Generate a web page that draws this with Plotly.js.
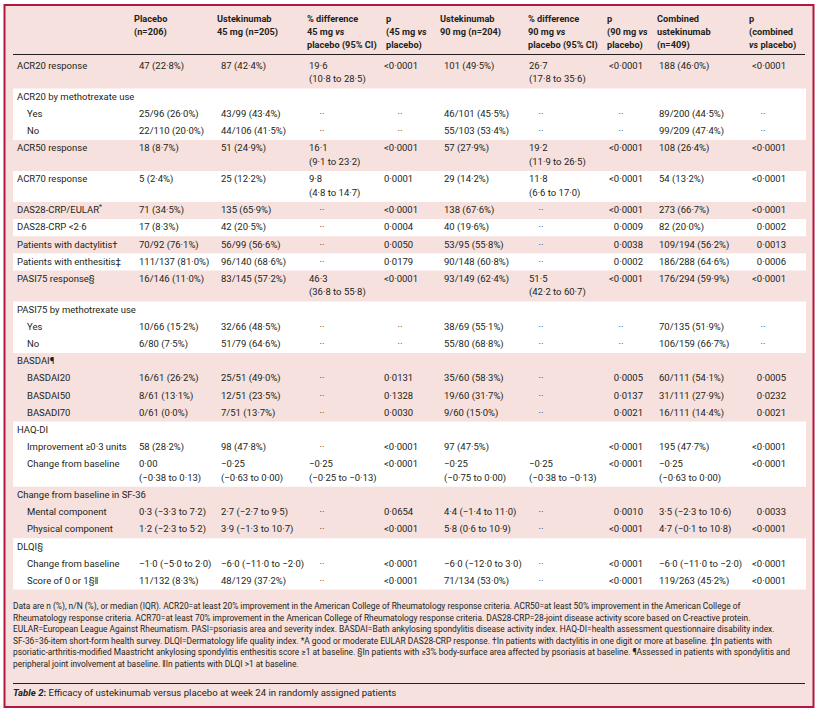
<!DOCTYPE html>
<html><head><meta charset="utf-8">
<script src="https://cdn.plot.ly/plotly-3.0.1.min.js"></script>
<style>html,body{margin:0;padding:0;background:#fff}</style>
</head><body><div id="chart" style="width:819px;height:710px"></div>
<script>
// ---------------- DATA ----------------
const columnHeaders = [
  "",
  "<b>Placebo</b><br><b>(n=206)</b>",
  "<b>Ustekinumab</b><br><b>45 mg (n=205)</b>",
  "<b>% difference</b><br><b>45 mg <i>vs</i></b><br><b>placebo (95% CI)</b>",
  "<b>p</b><br><b>(45 mg <i>vs</i></b><br><b>placebo)</b>",
  "<b>Ustekinumab</b><br><b>90 mg (n=204)</b>",
  "<b>% difference</b><br><b>90 mg <i>vs</i></b><br><b>placebo (95% CI)</b>",
  "<b>p</b><br><b>(90 mg <i>vs</i></b><br><b>placebo)</b>",
  "<b>Combined</b><br><b>ustekinumab</b><br><b>(n=409)</b>",
  "<b>p</b><br><b>(combined</b><br><b><i>vs</i> placebo)</b>"
];

const rowLabels = [
  "ACR20 response", "ACR20 by methotrexate use", "Yes", "No",
  "ACR50 response", "ACR70 response", "DAS28-CRP/EULAR<sup>*</sup>", "DAS28-CRP &lt;2·6",
  "Patients with dactylitis†", "Patients with enthesitis‡", "PASI75 response§",
  "PASI75 by methotrexate use", "Yes", "No",
  "BASDAI¶", "BASDAI20", "BASDAI50", "BASADI70",
  "HAQ-DI", "Improvement ≥0·3 units", "Change from baseline",
  "Change from baseline in SF-36", "Mental component", "Physical component",
  "DLQI§", "Change from baseline", "Score of 0 or 1§‖"
];
// item = own band, group = band heading, sub = indented row inside a group
const rowKind = [
  "item","group","sub","sub",
  "item","item","item","item",
  "item","item","item",
  "group","sub","sub",
  "group","sub","sub","sub",
  "group","sub","sub",
  "group","sub","sub",
  "group","sub","sub"
];

const NA = "··";
const placebo = ["47 (22·8%)","","25/96 (26·0%)","22/110 (20·0%)","18 (8·7%)","5 (2·4%)","71 (34·5%)","17 (8·3%)","70/92 (76·1%)","111/137 (81·0%)","16/146 (11·0%)","","10/66 (15·2%)","6/80 (7·5%)","","16/61 (26·2%)","8/61 (13·1%)","0/61 (0·0%)","","58 (28·2%)","0·00 (−0·38 to 0·13)","","0·3 (−3·3 to 7·2)","1·2 (−2·3 to 5·2)","","−1·0 (−5·0 to 2·0)","11/132 (8·3%)"];
const ust45 = ["87 (42·4%)","","43/99 (43·4%)","44/106 (41·5%)","51 (24·9%)","25 (12·2%)","135 (65·9%)","42 (20·5%)","56/99 (56·6%)","96/140 (68·6%)","83/145 (57·2%)","","32/66 (48·5%)","51/79 (64·6%)","","25/51 (49·0%)","12/51 (23·5%)","7/51 (13·7%)","","98 (47·8%)","−0·25 (−0·63 to 0·00)","","2·7 (−2·7 to 9·5)","3·9 (−1·3 to 10·7)","","−6·0 (−11·0 to −2·0)","48/129 (37·2%)"];
const diff45 = ["19·6 (10·8 to 28·5)","",NA,NA,"16·1 (9·1 to 23·2)","9·8 (4·8 to 14·7)",NA,NA,NA,NA,"46·3 (36·8 to 55·8)","",NA,NA,"",NA,NA,NA,"",NA,"−0·25 (−0·25 to −0·13)","",NA,NA,"",NA,NA];
const p45 = ["&lt;0·0001","",NA,NA,"&lt;0·0001","0·0001","&lt;0·0001","0·0004","0·0050","0·0179","&lt;0·0001","",NA,NA,"","0·0131","0·1328","0·0030","","&lt;0·0001","&lt;0·0001","","0·0654","&lt;0·0001","","&lt;0·0001","&lt;0·0001"];
const ust90 = ["101 (49·5%)","","46/101 (45·5%)","55/103 (53·4%)","57 (27·9%)","29 (14·2%)","138 (67·6%)","40 (19·6%)","53/95 (55·8%)","90/148 (60·8%)","93/149 (62·4%)","","38/69 (55·1%)","55/80 (68·8%)","","35/60 (58·3%)","19/60 (31·7%)","9/60 (15·0%)","","97 (47·5%)","−0·25 (−0·75 to 0·00)","","4·4 (−1·4 to 11·0)","5·8 (0·6 to 10·9)","","−6·0 (−12·0 to 3·0)","71/134 (53·0%)"];
const diff90 = ["26·7 (17·8 to 35·6)","",NA,NA,"19·2 (11·9 to 26·5)","11·8 (6·6 to 17·0)",NA,NA,NA,NA,"51·5 (42·2 to 60·7)","",NA,NA,"",NA,NA,NA,"","","−0·25 (−0·38 to −0·13)","",NA,NA,"",NA,NA];
const p90 = ["&lt;0·0001","",NA,NA,"&lt;0·0001","&lt;0·0001","&lt;0·0001","0·0009","0·0038","0·0002","&lt;0·0001","",NA,NA,"","0·0005","0·0137","0·0021","","&lt;0·0001","&lt;0·0001","","0·0010","&lt;0·0001","","&lt;0·0001","&lt;0·0001"];
const combined = ["188 (46·0%)","","89/200 (44·5%)","99/209 (47·4%)","108 (26·4%)","54 (13·2%)","273 (66·7%)","82 (20·0%)","109/194 (56·2%)","186/288 (64·6%)","176/294 (59·9%)","","70/135 (51·9%)","106/159 (66·7%)","","60/111 (54·1%)","31/111 (27·9%)","16/111 (14·4%)","","195 (47·7%)","−0·25 (−0·63 to 0·00)","","3·5 (−2·3 to 10·6)","4·7 (−0·1 to 10·8)","","−6·0 (−11·0 to −2·0)","119/263 (45·2%)"];
const pCombined = ["&lt;0·0001","",NA,NA,"&lt;0·0001","&lt;0·0001","&lt;0·0001","0·0002","0·0013","0·0006","&lt;0·0001","",NA,NA,"","0·0005","0·0232","0·0021","","&lt;0·0001","&lt;0·0001","","0·0033","&lt;0·0001","","&lt;0·0001","&lt;0·0001"];

const footnotes = [
  "Data are n (%), n/N (%), or median (IQR). ACR20=at least 20% improvement in the American College of Rheumatology response criteria. ACR50=at least 50% improvement in the American College of",
  "Rheumatology response criteria. ACR70=at least 70% improvement in the American College of Rheumatology response criteria. DAS28-CRP=28-joint disease activity score based on C-reactive protein.",
  "EULAR=European League Against Rheumatism. PASI=psoriasis area and severity index. BASDAI=Bath ankylosing spondylitis disease activity index. HAQ-DI=health assessment questionnaire disability index.",
  "SF-36=36-item short-form health survey. DLQI=Dermatology life quality index. *A good or moderate EULAR DAS28-CRP response. †In patients with dactylitis in one digit or more at baseline. ‡In patients with",
  "psoriatic-arthritis-modified Maastricht ankylosing spondylitis enthesitis score ≥1 at baseline. §In patients with ≥3% body-surface area affected by psoriasis at baseline. ¶Assessed in patients with spondylitis and",
  "peripheral joint involvement at baseline. ‖In patients with DLQI &gt;1 at baseline."
];
const caption = "<b><i>Table 2</i>:</b> Efficacy of ustekinumab versus placebo at week 24 in randomly assigned patients";

// ---------------- LAYOUT CONFIG ----------------
const W = 819, H = 710;
const FONT = "Roboto, 'Liberation Sans', sans-serif";
const INK = "#231f20", PINK = "#f6e1de", BORDER = "#b3173f";
const BODY_SIZE = 9.5, HEAD_SIZE = 9.2, NOTE_SIZE = 8.4, CAP_SIZE = 9.6;
const valueCols = [placebo, ust45, diff45, p45, ust90, diff90, p90, combined, pCombined];
// per column: header x, value anchor x, alignment, x for "··"
const colCfg = [
  {hx:134, vx:139, al:"l"},
  {hx:217, vx:221, al:"l"},
  {hx:307, vx:309, al:"l", dx:322},
  {hx:386, vx:384, al:"l", dx:400},
  {hx:440, vx:444, al:"l"},
  {hx:528, vx:529, al:"l", dx:541},
  {hx:607, vx:643, al:"r", dx:621},
  {hx:657, vx:659, al:"l"},
  {hx:749, vx:786, al:"r", dx:763}
];
const twoLineRows = new Set([0, 4, 5, 10, 20]);
const LEFT = 13, RIGHT = 806;
const bodyTop = 57.5, singleH = 17.14, doubleH = 31, lineGap = 13.5, firstOff = 9;

// ---------------- BUILD ----------------
const tx = [], ty = [], tt = [], tp = [];
function put(x, y, t, pos) { tx.push(x); ty.push(y); tt.push(t); tp.push(pos); }

const shapes = [];
// outer frame
shapes.push({type:"rect", xref:"x", yref:"y", x0:4.5, x1:813.5, y0:5, y1:707,
  line:{color:BORDER, width:2}, fillcolor:PINK, layer:"below"});

// row positions and bands
let y = bodyTop;
let bandIdx = -1, bandStart = bodyTop;
const bands = [];
rowLabels.forEach((lab, r) => {
  const h = twoLineRows.has(r) ? doubleH : singleH;
  if (rowKind[r] !== "sub") {
    if (bandIdx >= 0) bands.push([bandStart, y, bandIdx]);
    bandIdx++; bandStart = (r === 0 ? 55 : y);
  }
  const y1 = y + firstOff;
  put(rowKind[r] === "sub" ? 27 : 17, y1, lab, "middle right");
  valueCols.forEach((col, c) => {
    const v = col[r]; if (!v) return;
    const cfg = colCfg[c];
    if (v === NA) { put(cfg.dx, y1, v, "middle center"); return; }
    let lines = [v];
    if (twoLineRows.has(r) && v.indexOf(" to ") > 0) {
      const k = v.indexOf(" (");
      lines = [v.slice(0, k), v.slice(k + 1)];
    }
    lines.forEach((ln, i) => put(cfg.vx, y1 + i * lineGap, ln, cfg.al === "r" ? "middle left" : "middle right"));
  });
  y += h;
});
bands.push([bandStart, y, bandIdx]);
bands.forEach(([a, b, i]) => {
  if (i % 2 === 1) shapes.push({type:"rect", xref:"x", yref:"y", x0:LEFT, x1:RIGHT, y0:a, y1:b,
    line:{width:0}, fillcolor:"#ffffff", layer:"below"});
});
// header rule and footnote rule
shapes.push({type:"line", xref:"x", yref:"y", x0:LEFT, x1:RIGHT-1, y0:54.5, y1:54.5, line:{color:INK, width:1}});
shapes.push({type:"line", xref:"x", yref:"y", x0:LEFT, x1:RIGHT-1, y0:683.5, y1:683.5, line:{color:INK, width:1}});

// header
const hx = [], hy = [], ht = [];
columnHeaders.forEach((h, c) => {
  if (!h) return;
  h.split("<br>").forEach((ln, i) => { hx.push(colCfg[c-1].hx); hy.push(20 + i * 13); ht.push(ln); });
});

// footnotes
const fx = [], fy = [], ft = [];
footnotes.forEach((f, i) => { fx.push(LEFT); fy.push(607 + i * 11.6); ft.push(f); });

const traces = [
  {type:"scatter", mode:"text", x:tx, y:ty, text:tt, textposition:tp, cliponaxis:false, hoverinfo:"skip",
   textfont:{family:FONT, size:BODY_SIZE, color:INK}, showlegend:false},
  {type:"scatter", mode:"text", x:hx, y:hy, text:ht, textposition:"middle right", cliponaxis:false, hoverinfo:"skip",
   textfont:{family:FONT, size:HEAD_SIZE, color:INK}, showlegend:false},
  {type:"scatter", mode:"text", x:fx, y:fy, text:ft, textposition:"middle right", cliponaxis:false, hoverinfo:"skip",
   textfont:{family:FONT, size:NOTE_SIZE, color:INK}, showlegend:false},
  {type:"scatter", mode:"text", x:[LEFT], y:[694], text:[caption], textposition:"middle right", cliponaxis:false, hoverinfo:"skip",
   textfont:{family:FONT, size:CAP_SIZE, color:INK}, showlegend:false}
];

const layout = {
  width: W, height: H, margin:{l:0, r:0, t:0, b:0, pad:0},
  paper_bgcolor:"#ffffff", plot_bgcolor:"rgba(0,0,0,0)",
  xaxis:{range:[0, W], visible:false, fixedrange:true},
  yaxis:{range:[H, 0], visible:false, fixedrange:true},
  shapes: shapes, showlegend:false, hovermode:false
};
Plotly.newPlot("chart", traces, layout, {staticPlot:true, displayModeBar:false});
</script></body></html>
